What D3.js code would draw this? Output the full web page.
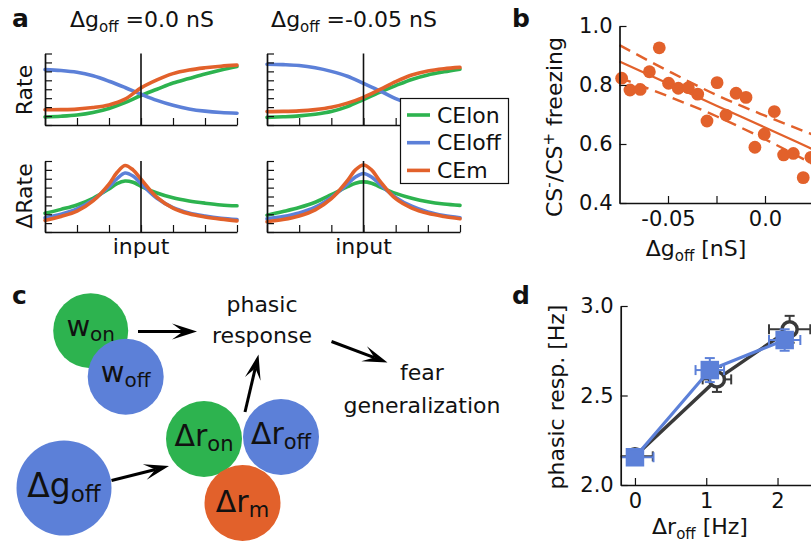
<!DOCTYPE html>
<html><head><meta charset="utf-8">
<script src="https://cdn.jsdelivr.net/npm/d3@7"></script>
<style>
body{margin:0;background:#fff}
svg{display:block}
text{font-family:"DejaVu Sans",sans-serif;fill:#111;white-space:pre}
</style>
</head><body>
<svg id="c" width="811" height="547"></svg>
<script>
// ---------------- DATA ----------------
// panel a (top: rates, bottom: rate changes), x = input (arbitrary units 0..6)
const seriesNames = ["CElon", "CEloff", "CEm"];
const inputTop = [0,0.5,1,1.5,2,2.5,3,3.5,4,4.5,5,5.5,6];
const rateOn_g0  = [0.9,0.98,1.12,1.4,1.85,2.5,3.3,4.0,4.7,5.2,5.7,6.15,6.55];
const rateOff_g0 = [6.2,6.1,5.9,5.5,4.9,4.2,3.45,2.75,2.2,1.8,1.55,1.4,1.32];
const rateM_g0   = [1.7,1.72,1.78,1.95,2.25,2.9,4.15,5.05,5.75,6.15,6.4,6.58,6.7];
const rateOn_g5  = [0.85,0.92,1.02,1.2,1.5,2.05,2.85,3.65,4.4,5.1,5.6,5.95,6.25];
const rateOff_g5 = [6.8,6.75,6.65,6.4,6.0,5.45,4.65,3.85,2.95,2.3,1.85,1.6,1.45];
const rateM_g5   = [1.5,1.52,1.58,1.72,1.98,2.45,3.1,3.95,4.85,5.6,6.05,6.3,6.45];
const inputBL = [0,0.5,1,1.5,2,2.25,2.5,2.75,3,3.5,4,4.5,5,5.5,6];
const dOn_g0  = [2.1,2.55,3.05,3.8,4.85,5.45,5.75,5.6,5.15,4.4,3.85,3.5,3.25,3.05,2.95];
const dOff_g0 = [1.6,2.0,2.6,3.6,5.1,6.0,6.65,6.3,5.45,3.8,2.75,2.15,1.8,1.55,1.4];
const dM_g0   = [1.3,1.75,2.35,3.5,5.4,6.7,7.5,7.0,5.95,3.9,2.7,2.05,1.7,1.45,1.25];
const inputBR = [0,0.5,1,1.5,2,2.5,2.75,3,3.25,3.5,4,4.5,5,5.5,6];
const dOn_g5  = [1.9,2.3,2.75,3.35,4.2,5.1,5.5,5.65,5.5,5.1,4.35,3.8,3.4,3.15,3.0];
const dOff_g5 = [1.5,1.75,2.15,2.8,3.9,5.4,6.2,6.6,6.2,5.4,3.9,2.9,2.25,1.85,1.6];
const dM_g5   = [1.15,1.4,1.8,2.5,3.75,5.8,7.0,7.55,7.0,5.8,3.75,2.7,2.1,1.75,1.5];
const aTitles = ["0.0", "-0.05"];

// panel b
const gOff = [-0.0739,-0.0696,-0.0643,-0.0596,-0.0545,-0.0497,-0.0447,-0.0395,-0.0347,-0.0299,-0.0247,-0.0201,-0.0149,-0.0098,-0.0052,-0.0004,0.0048,0.0096,0.0146,0.0197,0.0237];
const freezing = [0.823,0.783,0.785,0.845,0.926,0.806,0.789,0.791,0.769,0.678,0.808,0.698,0.772,0.758,0.589,0.633,0.710,0.563,0.568,0.486,0.555];
const fitX     = [-0.075,-0.05,-0.025,0,0.025,0.05];
const fitMean  = [0.88,0.805,0.730,0.656,0.581,0.506];
const fitUpper = [0.935,0.848,0.766,0.696,0.631,0.569];
const fitLower = [0.825,0.762,0.694,0.616,0.531,0.443];
const bYTicks = [0.4,0.6,0.8,1.0];
const bXTicks = [-0.05,0.0];
const bXMinor = [-0.025,0.025];

// panel c
const nodes = [
  {main:"w",  sub:"on",  kind:"on"},
  {main:"w",  sub:"off", kind:"off"},
  {main:"Δg", sub:"off", kind:"off"},
  {main:"Δr", sub:"on",  kind:"on"},
  {main:"Δr", sub:"off", kind:"off"},
  {main:"Δr", sub:"m",   kind:"m"}
];
const cWords = [["phasic","response"],["fear","generalization"]];

// panel d
const dXTicks = [0,1,2];
const dYTicks = [2.0,2.5,3.0];
const blackX = [0.0,1.15,2.17], blackY = [2.16,2.59,2.87];
const blackXErr = [0.25,0.2,0.29], blackYErr = [0.03,0.07,0.075];
const blueX = [0.0,1.05,2.10], blueY = [2.155,2.642,2.81];
const blueXErr = [0.26,0.2,0.22], blueYErr = [0.03,0.067,0.06];

// ---------------- STYLE ----------------
const C_ON = "#2db34f", C_OFF = "#5c80d8", C_M = "#e2612b", C_K = "#3a3a3a";
const kindColor = {on:C_ON, off:C_OFF, m:C_M};
const FS = 22;
const svg = d3.select("#c");

function styleAxis(g){
  g.select(".domain").attr("stroke","#111").attr("stroke-width",1.7);
  g.selectAll(".tick line").attr("stroke","#111").attr("stroke-width",1.2);
  g.selectAll(".tick text").style("font-size","21px").attr("fill","#111");
}
function panelLabel(x,y,t){
  svg.append("text").attr("x",x).attr("y",y).text(t)
    .style("font-size","25px").style("font-weight","bold");
}
function subText(g,x,y,parts,anchor){
  const t = g.append("text").attr("x",x).attr("y",y).attr("text-anchor",anchor||"start");
  parts.forEach(p=>t.append("tspan").attr("dy",p[2]||0).style("font-size",p[1]+"px").text(p[0]));
  return t;
}

// ---------------- PANEL A ----------------
function ratePanel(x0,x1,y0,y1,xs,vals){
  const x = d3.scaleLinear().domain([0,6]).range([x0,x1]);
  const y = d3.scaleLinear().domain([0,8]).range([y1,y0]);
  const g = svg.append("g");
  const line = d3.line().x((d,i)=>x(xs[i])).y(d=>y(d)).curve(d3.curveCatmullRom.alpha(0.5));
  [[vals[0],C_ON],[vals[1],C_OFF],[vals[2],C_M]].forEach(([v,c])=>{
    g.append("path").attr("d",line(v)).attr("fill","none").attr("stroke",c)
      .attr("stroke-width",3.6).attr("stroke-linecap","round");
  });
  g.append("line").attr("x1",x(3)).attr("x2",x(3)).attr("y1",y(8)).attr("y2",y(0))
    .attr("stroke","#111").attr("stroke-width",1.6);
  g.append("g").attr("transform",`translate(0,${y1})`)
    .call(d3.axisBottom(x).ticks(6).tickSize(-7).tickSizeOuter(0).tickFormat("")).call(styleAxis);
  g.append("g").attr("transform",`translate(${x0},0)`)
    .call(d3.axisLeft(y).ticks(8).tickSize(-7).tickSizeOuter(0).tickFormat("")).call(styleAxis);
  return x;
}
const xa1 = ratePanel(45,237,53.5,125,inputTop,[rateOn_g0,rateOff_g0,rateM_g0]);
const xa2 = ratePanel(267,460,53.5,125,inputTop,[rateOn_g5,rateOff_g5,rateM_g5]);
ratePanel(45,237,161,232,inputBL,[dOn_g0,dOff_g0,dM_g0]);
ratePanel(267,460,161,232,inputBR,[dOn_g5,dOff_g5,dM_g5]);

subText(svg,142,27,[["Δg",FS],["off",15,5],[" ="+aTitles[0]+" nS",FS,-5]],"middle");
subText(svg,354,27,[["Δg",FS],["off",15,5],[" ="+aTitles[1]+" nS",FS,-5]],"middle");
svg.append("text").attr("transform","translate(32,90) rotate(-90)").attr("text-anchor","middle")
  .style("font-size",FS+"px").text("Rate");
svg.append("text").attr("transform","translate(32,196) rotate(-90)").attr("text-anchor","middle")
  .style("font-size",FS+"px").text("ΔRate");
svg.append("text").attr("x",xa1(3)).attr("y",254).attr("text-anchor","middle").style("font-size",FS+"px").text("input");
svg.append("text").attr("x",xa2(3)).attr("y",254).attr("text-anchor","middle").style("font-size",FS+"px").text("input");

// legend
const lg = svg.append("g");
lg.append("rect").attr("x",400.5).attr("y",98.5).attr("width",108).attr("height",85)
  .attr("fill","#fff").attr("stroke","#111").attr("stroke-width",1.2);
[C_ON,C_OFF,C_M].forEach((c,i)=>{
  const yy = 115 + i*27.7;
  lg.append("line").attr("x1",407).attr("x2",430).attr("y1",yy).attr("y2",yy).attr("stroke",c).attr("stroke-width",3.6);
  lg.append("text").attr("x",437).attr("y",yy+7.5).style("font-size",FS+"px").text(seriesNames[i]);
});
panelLabel(12,27,"a");

// ---------------- PANEL B ----------------
const xb = d3.scaleLinear().domain([-0.075,0.05]).range([619.5,862]);
const yb = d3.scaleLinear().domain([0.4,1.0]).range([203,26]);
const gb = svg.append("g");
gb.selectAll("circle").data(gOff).join("circle")
  .attr("cx",(d)=>xb(d)).attr("cy",(d,i)=>yb(freezing[i])).attr("r",6.4).attr("fill",C_M);
const fl = d3.line().x((d,i)=>xb(fitX[i])).y(d=>yb(d)).curve(d3.curveMonotoneX);
gb.append("path").attr("d",fl(fitMean)).attr("fill","none").attr("stroke",C_M).attr("stroke-width",2.2);
[fitUpper,fitLower].forEach(v=>gb.append("path").attr("d",fl(v)).attr("fill","none")
  .attr("stroke",C_M).attr("stroke-width",2.4).attr("stroke-dasharray","12,7"));
gb.append("g").attr("transform","translate(0,203)")
  .call(d3.axisBottom(xb).tickValues(bXTicks).tickSize(-7).tickSizeOuter(0).tickPadding(8)
  .tickFormat(d=>d===0?"0.0":d3.format(".2f")(d).replace("−","-"))).call(styleAxis);
gb.append("g").attr("transform","translate(0,203)")
  .call(d3.axisBottom(xb).tickValues(bXMinor).tickSize(-7).tickSizeOuter(0).tickFormat("")).call(g=>{g.select(".domain").remove();styleAxis(g);});
gb.append("g").attr("transform","translate(619.5,0)")
  .call(d3.axisLeft(yb).tickValues(bYTicks).tickSize(-7).tickSizeOuter(0).tickPadding(7).tickFormat(d3.format(".1f"))).call(styleAxis);
const ybt = svg.append("text").attr("transform","translate(562,127) rotate(-90)").attr("text-anchor","middle").style("font-size",FS+"px");
ybt.append("tspan").text("CS");
ybt.append("tspan").attr("dy",-8).style("font-size","15px").text("-");
ybt.append("tspan").attr("dy",8).text("/CS");
ybt.append("tspan").attr("dy",-8).style("font-size","15px").text("+");
ybt.append("tspan").attr("dy",8).text(" freezing");
subText(svg,696,256,[["Δg",FS],["off",15,5],[" [nS]",FS,-5]],"middle");
panelLabel(512,27,"b");

// ---------------- PANEL C ----------------
const layout = [
  {cx:90.7,cy:330.7,r:37.5,size:29,sub:20,dy:5},
  {cx:125.7,cy:376.7,r:38,size:29,sub:20,dy:5},
  {cx:64,cy:488,r:47.5,size:33,sub:23,dy:9},
  {cx:204,cy:439,r:38,size:30,sub:21,dy:7},
  {cx:281,cy:437,r:38,size:30,sub:21,dy:7},
  {cx:242.5,cy:503,r:38,size:30,sub:21,dy:9}
];
const gc = svg.append("g");
nodes.forEach((n,i)=>{
  const L = layout[i];
  gc.append("circle").attr("cx",L.cx).attr("cy",L.cy).attr("r",L.r).attr("fill",kindColor[n.kind]);
  subText(gc,L.cx,L.cy+L.dy,[[n.main,L.size],[n.sub,L.sub,5]],"middle");
});
const arrows = [
  [138,331.5,197,331.5],[245,412,258.5,354.5],[331.5,341.5,387.5,362.5],[111.5,480.5,169,466]
];
arrows.forEach(([x1,y1,x2,y2])=>{
  const dx=x2-x1, dy=y2-y1, len=Math.hypot(dx,dy), ux=dx/len, uy=dy/len, nx=-uy, ny=ux;
  const Lh=25, W=8, inset=11;
  gc.append("line").attr("x1",x1).attr("y1",y1).attr("x2",x2-ux*(Lh-inset)).attr("y2",y2-uy*(Lh-inset))
    .attr("stroke","#000").attr("stroke-width",3);
  const pts=[[x2,y2],[x2-ux*Lh+nx*W,y2-uy*Lh+ny*W],[x2-ux*(Lh-inset),y2-uy*(Lh-inset)],[x2-ux*Lh-nx*W,y2-uy*Lh-ny*W]];
  gc.append("path").attr("d","M"+pts.map(p=>p.join(",")).join("L")+"Z").attr("fill","#000");
});
const wordPos = [[262,312,343],[422,380,413]];
cWords.forEach((w,i)=>{
  gc.append("text").attr("x",wordPos[i][0]).attr("y",wordPos[i][1]).attr("text-anchor","middle").style("font-size",FS+"px").text(w[0]);
  gc.append("text").attr("x",wordPos[i][0]).attr("y",wordPos[i][2]).attr("text-anchor","middle").style("font-size",FS+"px").text(w[1]);
});
panelLabel(12,304,"c");

// ---------------- PANEL D ----------------
const xd = d3.scaleLinear().domain([-0.2,2.6]).range([620.7,820.3]);
const yd = d3.scaleLinear().domain([2.0,3.0]).range([485,306]);
const gd = svg.append("g");
const cap = 5;
function errBars(xs,ys,xe,ye,color){
  xs.forEach((xv,i)=>{
    const cx=xd(xv), cy=yd(ys[i]);
    const xl=Math.max(xd(xv-xe[i]),xd(-0.2)), xr=xd(xv+xe[i]), yt=yd(ys[i]+ye[i]), yb2=yd(ys[i]-ye[i]);
    gd.append("line").attr("x1",xl).attr("x2",xr).attr("y1",cy).attr("y2",cy).attr("stroke",color).attr("stroke-width",2);
    gd.append("line").attr("x1",cx).attr("x2",cx).attr("y1",yt).attr("y2",yb2).attr("stroke",color).attr("stroke-width",2);
    gd.append("line").attr("x1",xr).attr("x2",xr).attr("y1",cy-cap).attr("y2",cy+cap).attr("stroke",color).attr("stroke-width",2);
    if (xd(xv-xe[i])>xd(-0.2)) gd.append("line").attr("x1",xl).attr("x2",xl).attr("y1",cy-cap).attr("y2",cy+cap).attr("stroke",color).attr("stroke-width",2);
    gd.append("line").attr("x1",cx-cap).attr("x2",cx+cap).attr("y1",yt).attr("y2",yt).attr("stroke",color).attr("stroke-width",2);
    gd.append("line").attr("x1",cx-cap).attr("x2",cx+cap).attr("y1",yb2).attr("y2",yb2).attr("stroke",color).attr("stroke-width",2);
  });
}
const dl = d3.line().x(d=>xd(d[0])).y(d=>yd(d[1]));
gd.append("path").attr("d",dl(blackX.map((v,i)=>[v,blackY[i]]))).attr("fill","none").attr("stroke",C_K).attr("stroke-width",3.4);
errBars(blackX,blackY,blackXErr,blackYErr,C_K);
blackX.forEach((v,i)=>gd.append("circle").attr("cx",xd(v)).attr("cy",yd(blackY[i])).attr("r",7.5)
  .attr("fill","#fff").attr("stroke",C_K).attr("stroke-width",3.5));
gd.append("path").attr("d",dl(blueX.map((v,i)=>[v,blueY[i]]))).attr("fill","none").attr("stroke",C_OFF).attr("stroke-width",3.2);
errBars(blueX,blueY,blueXErr,blueYErr,C_OFF);
blueX.forEach((v,i)=>gd.append("rect").attr("x",xd(v)-8).attr("y",yd(blueY[i])-8).attr("width",16).attr("height",16)
  .attr("fill",C_OFF).attr("stroke",C_OFF).attr("stroke-width",2.5));
gd.append("g").attr("transform","translate(0,485)")
  .call(d3.axisBottom(xd).tickValues(dXTicks).tickSize(-7).tickSizeOuter(0).tickPadding(8).tickFormat(d3.format("d"))).call(styleAxis);
gd.append("g").attr("transform","translate(620.7,0)")
  .call(d3.axisLeft(yd).tickValues(dYTicks).tickSize(-7).tickSizeOuter(0).tickPadding(7).tickFormat(d3.format(".1f"))).call(styleAxis);
svg.append("text").attr("transform","translate(564,397) rotate(-90)").attr("text-anchor","middle")
  .style("font-size",FS+"px").text("phasic resp. [Hz]");
subText(svg,700,534,[["Δr",FS],["off",15,5],[" [Hz]",FS,-5]],"middle");
panelLabel(512,304,"d");
</script>
</body></html>
